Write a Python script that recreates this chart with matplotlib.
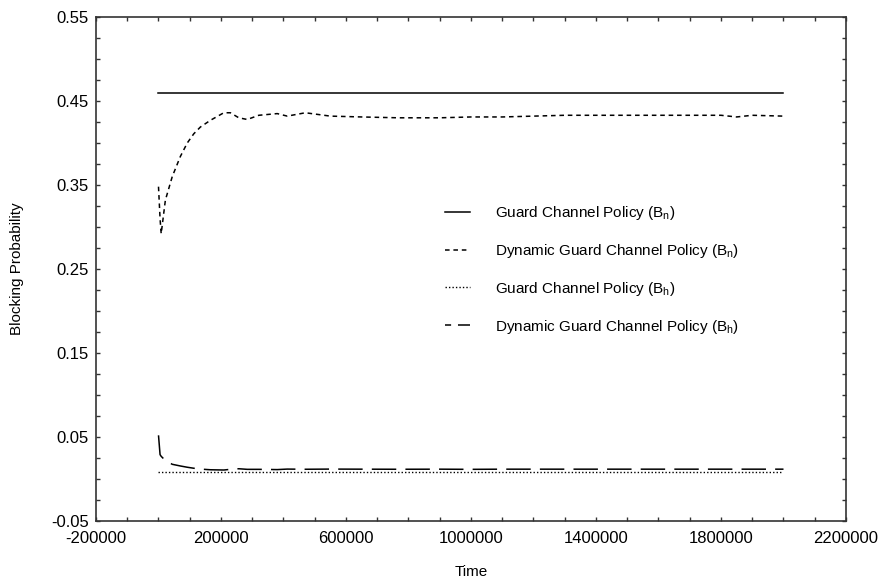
import matplotlib
matplotlib.use("Agg")
import matplotlib.pyplot as plt
from matplotlib.lines import Line2D
from matplotlib.ticker import MultipleLocator, FixedLocator

plt.rcParams['font.family'] = ['Liberation Sans', 'DejaVu Sans']
plt.rcParams['mathtext.default'] = 'regular'

# simulation time points
time = [0, 5000, 8600, 22000, 44000, 70000, 92000, 113000, 134000, 166000,
        209000, 230000, 257000, 284000, 321000, 380000, 412000, 470000,
        550000, 650000, 768000, 900000, 1000000, 1100000, 1200000, 1300000,
        1400000, 1500000, 1600000, 1700000, 1800000, 1850000, 1900000, 2000000]

# blocking probability of new calls
guard_bn = [0.46] * len(time)
dynamic_bn = [0.348, 0.310, 0.292, 0.332, 0.360, 0.384, 0.400, 0.411, 0.419, 0.427,
              0.436, 0.436, 0.430, 0.428, 0.433, 0.435, 0.432, 0.436,
              0.432, 0.431, 0.430, 0.430, 0.431, 0.431, 0.432, 0.433,
              0.433, 0.433, 0.433, 0.433, 0.433, 0.431, 0.433, 0.432]

# blocking probability of handoff calls
guard_bh = [0.008] * len(time)
dynamic_bh = [0.052, 0.029, 0.027, 0.022, 0.0175, 0.0155, 0.014, 0.0128, 0.0118, 0.011,
              0.0107, 0.0115, 0.0122, 0.0115, 0.0115, 0.0112, 0.0118, 0.0116,
              0.0118, 0.0117, 0.0116, 0.0117, 0.0115, 0.0117, 0.0117, 0.0117,
              0.0117, 0.0117, 0.0117, 0.0117, 0.0117, 0.0117, 0.0117, 0.0117]

labels = ['Guard Channel Policy (B$_n$)',
          'Dynamic Guard Channel Policy (B$_n$)',
          'Guard Channel Policy (B$_h$)',
          'Dynamic Guard Channel Policy (B$_h$)']

fig = plt.figure(figsize=(8.87, 5.85), dpi=100)
ax = fig.add_axes([96/887, 64/585, 750/887, 504/585])

l1, = ax.plot(time, guard_bn, color='black', lw=1.1)
l2, = ax.plot(time, dynamic_bn, color='black', lw=1.1, dashes=(3, 2.5))
l3, = ax.plot(time, guard_bh, color='black', lw=1.0, dashes=(1, 1.5))
ax.plot(time, dynamic_bh, color='black', lw=1.1, dashes=(16, 6))
# legend sample for the long dash line (pattern shorter than the handle)
l4 = Line2D([], [], color='black', lw=1.1, linestyle=(0, (4, 4.5, 10, 4)))

ax.set_xlim(-200000, 2200000)
ax.set_ylim(-0.05, 0.55)
ax.xaxis.set_major_locator(FixedLocator([-200000, 200000, 600000, 1000000,
                                         1400000, 1800000, 2200000]))
ax.xaxis.set_minor_locator(MultipleLocator(100000))
ax.yaxis.set_major_locator(FixedLocator([-0.05, 0.05, 0.15, 0.25, 0.35, 0.45, 0.55]))
ax.yaxis.set_minor_locator(MultipleLocator(0.025))
ax.set_xticklabels(['-200000', '200000', '600000', '1000000',
                    '1400000', '1800000', '2200000'])
ax.set_yticklabels(['-0.05', '0.05', '0.15', '0.25', '0.35', '0.45', '0.55'])

ax.tick_params(which='both', direction='in', length=3, width=1,
               top=True, right=True, color='#333333', labelsize=12)
ax.tick_params(axis='y', pad=5)
ax.tick_params(axis='x', pad=7)
for s in ax.spines.values():
    s.set_color('#333333')
    s.set_linewidth(1.2)

ax.set_xlabel('Time', fontsize=11, labelpad=14)
ax.set_ylabel('Blocking Probability', fontsize=11, labelpad=20)

ax.legend([l1, l2, l3, l4], labels, loc='upper left',
          bbox_to_anchor=(445/887, 1 - 204/585),
          bbox_transform=fig.transFigure, frameon=False, fontsize=11,
          handlelength=1.65, handletextpad=1.65, labelspacing=1.3,
          borderpad=0, borderaxespad=0)

fig.savefig('out.png', dpi=100)
